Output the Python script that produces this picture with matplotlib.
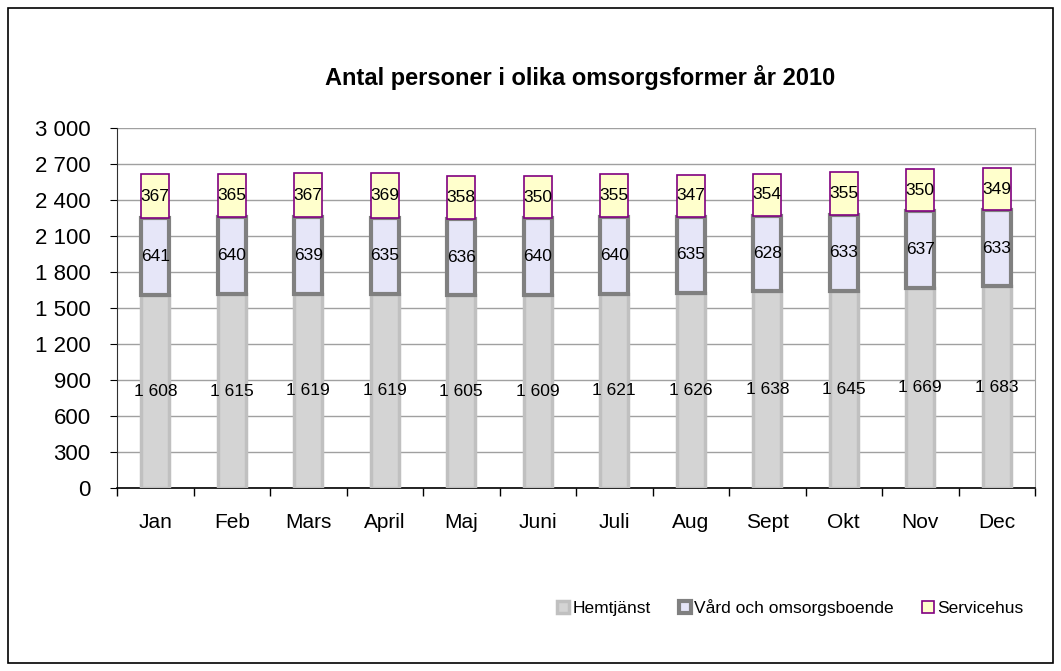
import matplotlib.pyplot as plt
from matplotlib.patches import Rectangle
from matplotlib.ticker import FuncFormatter

plt.rcParams['font.family'] = ['Liberation Sans', 'DejaVu Sans']

# data
months = ['Jan', 'Feb', 'Mars', 'April', 'Maj', 'Juni', 'Juli', 'Aug', 'Sept', 'Okt', 'Nov', 'Dec']
hemtjanst = [1608, 1615, 1619, 1619, 1605, 1609, 1621, 1626, 1638, 1645, 1669, 1683]
vard = [641, 640, 639, 635, 636, 640, 640, 635, 628, 633, 637, 633]
servicehus = [367, 365, 367, 369, 358, 350, 355, 347, 354, 355, 350, 349]
y_ticks = [0, 300, 600, 900, 1200, 1500, 1800, 2100, 2400, 2700, 3000]


def fmt(v):
    # swedish style thousands separator
    return '{:,}'.format(int(v)).replace(',', ' ')


fig = plt.figure(figsize=(10.61, 6.71), dpi=100)
fig.patches.append(Rectangle((0.008, 0.012), 0.984, 0.976, transform=fig.transFigure,
                             fill=False, edgecolor='black', linewidth=1.2))

ax = fig.add_axes([0.1103, 0.2727, 0.8652, 0.5365])
x = list(range(len(months)))
w = 0.37

bottom2 = hemtjanst
bottom3 = [a + b for a, b in zip(hemtjanst, vard)]

b1 = ax.bar(x, hemtjanst, w, color='#d4d4d4', edgecolor='#c0c0c0', linewidth=2.5,
            label='Hemtjänst', zorder=3)
b2 = ax.bar(x, vard, w, bottom=bottom2, color='#e6e6f8', edgecolor='#808080', linewidth=3,
            label='Vård och omsorgsboende', zorder=3)
b3 = ax.bar(x, servicehus, w, bottom=bottom3, color='#ffffcc', edgecolor='#800080', linewidth=1.2,
            label='Servicehus', zorder=3)

for i in x:
    ax.text(i, hemtjanst[i] / 2, fmt(hemtjanst[i]), ha='center', va='center', fontsize=12.5, zorder=4)
    ax.text(i, bottom2[i] + vard[i] / 2, fmt(vard[i]), ha='center', va='center', fontsize=12.5, zorder=4)
    ax.text(i, bottom3[i] + servicehus[i] / 2, fmt(servicehus[i]), ha='center', va='center', fontsize=12.5, zorder=4)

ax.set_xlim(-0.5, len(months) - 0.5)
ax.set_ylim(0, 3000)
ax.set_yticks(y_ticks)
ax.yaxis.set_major_formatter(FuncFormatter(lambda v, p: fmt(v)))
ax.grid(axis='y', color='#a0a0a0', linewidth=1, zorder=0)

ax.set_xticks(x)
ax.set_xticklabels(months, fontsize=15)
ax.set_xticks([i + 0.5 for i in range(-1, len(months))], minor=True)
ax.tick_params(axis='x', which='major', length=0, pad=18)
ax.tick_params(axis='x', which='minor', length=6, width=1, direction='out')
ax.tick_params(axis='y', labelsize=16, length=5, direction='out', pad=14)

ax.spines['top'].set_visible(False)
ax.spines['right'].set_color('#a0a0a0')
ax.spines['left'].set_linestyle((0, (3, 1)))
ax.spines['left'].set_color('#303030')
ax.spines['bottom'].set_color('black')
ax.spines['bottom'].set_linewidth(1.2)

fig.text(0.547, 0.884, 'Antal personer i olika omsorgsformer år 2010', ha='center', va='center',
         fontsize=17, fontweight='bold')

fig.legend(handles=[b1, b2, b3], loc='center', bbox_to_anchor=(0.745, 0.095), ncol=3,
           frameon=False, fontsize=12.5, handlelength=0.7, handleheight=0.7, handletextpad=0.2,
           columnspacing=1.6)

fig.savefig('out.png', dpi=100)
